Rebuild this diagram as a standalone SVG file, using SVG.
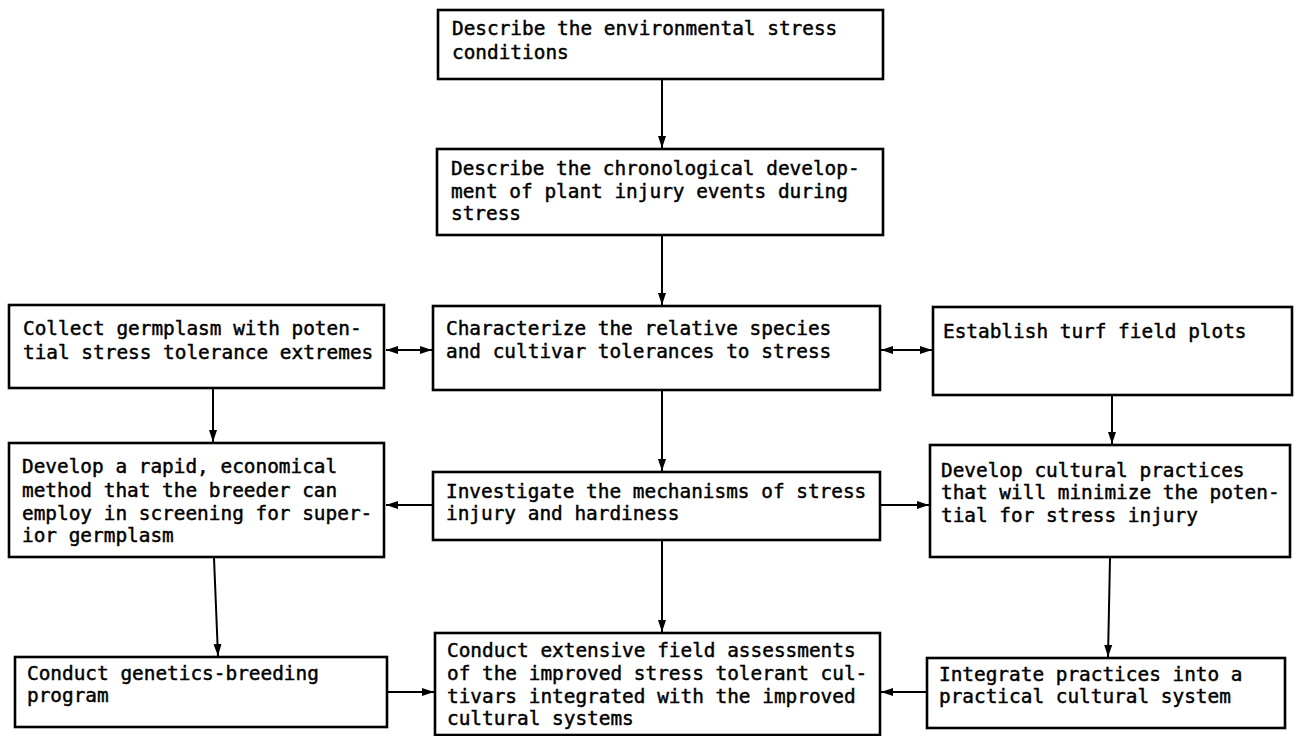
<svg xmlns="http://www.w3.org/2000/svg" width="1296" height="736" viewBox="0 0 1296 736">
<defs>
<marker id="ah" viewBox="0 0 12 10" refX="12" refY="5" markerWidth="12" markerHeight="10" markerUnits="userSpaceOnUse" orient="auto-start-reverse">
<path d="M0,1 L12,5 L0,9 Z" fill="#000"/>
</marker>
</defs>
<style>
.box{fill:#fff;stroke:#000;stroke-width:2.6}
.t{font-family:"DejaVu Sans Mono","Liberation Mono",monospace;font-size:19.4px;fill:#000;stroke:#000;stroke-width:0.45}
.c{stroke:#000;stroke-width:2;fill:none}
</style>
<rect width="1296" height="736" fill="#fff"/>
<g id="n1"><rect class="box" x="438" y="10" width="445" height="69"/>
<text class="t" x="452" y="35">Describe the environmental stress</text>
<text class="t" x="452" y="59">conditions</text></g>
<g id="n2"><rect class="box" x="437" y="149" width="446" height="86"/>
<text class="t" x="451" y="175">Describe the chronological develop-</text>
<text class="t" x="451" y="198">ment of plant injury events during</text>
<text class="t" x="451" y="220">stress</text></g>
<g id="n3"><rect class="box" x="433" y="306" width="447" height="84"/>
<text class="t" x="446" y="335">Characterize the relative species</text>
<text class="t" x="446" y="358">and cultivar tolerances to stress</text></g>
<g id="n4"><rect class="box" x="9" y="305" width="375" height="83"/>
<text class="t" x="23" y="335">Collect germplasm with poten-</text>
<text class="t" x="23" y="359">tial stress tolerance extremes</text></g>
<g id="n5"><rect class="box" x="933" y="307" width="359" height="88"/>
<text class="t" x="943" y="338">Establish turf field plots</text></g>
<g id="n6"><rect class="box" x="433" y="472" width="447" height="68"/>
<text class="t" x="446" y="498">Investigate the mechanisms of stress</text>
<text class="t" x="446" y="520">injury and hardiness</text></g>
<g id="n7"><rect class="box" x="9" y="443" width="375" height="114"/>
<text class="t" x="22" y="473">Develop a rapid, economical</text>
<text class="t" x="22" y="497">method that the breeder can</text>
<text class="t" x="22" y="520">employ in screening for super-</text>
<text class="t" x="22" y="542">ior germplasm</text></g>
<g id="n8"><rect class="box" x="930" y="445" width="360" height="112"/>
<text class="t" x="941" y="477">Develop cultural practices</text>
<text class="t" x="941" y="499">that will minimize the poten-</text>
<text class="t" x="941" y="522">tial for stress injury</text></g>
<g id="n9"><rect class="box" x="15" y="657" width="372" height="70"/>
<text class="t" x="27" y="680">Conduct genetics-breeding</text>
<text class="t" x="27" y="702">program</text></g>
<g id="n10"><rect class="box" x="435" y="633" width="445" height="102"/>
<text class="t" x="447" y="657">Conduct extensive field assessments</text>
<text class="t" x="447" y="680">of the improved stress tolerant cul-</text>
<text class="t" x="447" y="703">tivars integrated with the improved</text>
<text class="t" x="447" y="725">cultural systems</text></g>
<g id="n11"><rect class="box" x="927" y="658" width="358" height="70"/>
<text class="t" x="939" y="681">Integrate practices into a</text>
<text class="t" x="939" y="703">practical cultural system</text></g>
<g id="connectors">
<line class="c" x1="662" y1="80" x2="662" y2="148" marker-end="url(#ah)"/>
<line class="c" x1="662" y1="236" x2="662" y2="305" marker-end="url(#ah)"/>
<line class="c" x1="662" y1="391" x2="662" y2="471" marker-end="url(#ah)"/>
<line class="c" x1="662" y1="541" x2="662" y2="632" marker-end="url(#ah)"/>
<line class="c" x1="386" y1="350" x2="432" y2="350" marker-start="url(#ah)" marker-end="url(#ah)"/>
<line class="c" x1="881" y1="350" x2="932" y2="350" marker-start="url(#ah)" marker-end="url(#ah)"/>
<line class="c" x1="432" y1="505" x2="386" y2="505" marker-end="url(#ah)"/>
<line class="c" x1="881" y1="505" x2="929" y2="505" marker-end="url(#ah)"/>
<line class="c" x1="213" y1="389" x2="213" y2="442" marker-end="url(#ah)"/>
<line class="c" x1="214" y1="558" x2="218" y2="656" marker-end="url(#ah)"/>
<line class="c" x1="1112" y1="396" x2="1112" y2="444" marker-end="url(#ah)"/>
<line class="c" x1="1110" y1="558" x2="1108" y2="657" marker-end="url(#ah)"/>
<line class="c" x1="388" y1="692" x2="434" y2="692" marker-end="url(#ah)"/>
<line class="c" x1="926" y1="692" x2="881" y2="692" marker-end="url(#ah)"/>
</g>
</svg>
